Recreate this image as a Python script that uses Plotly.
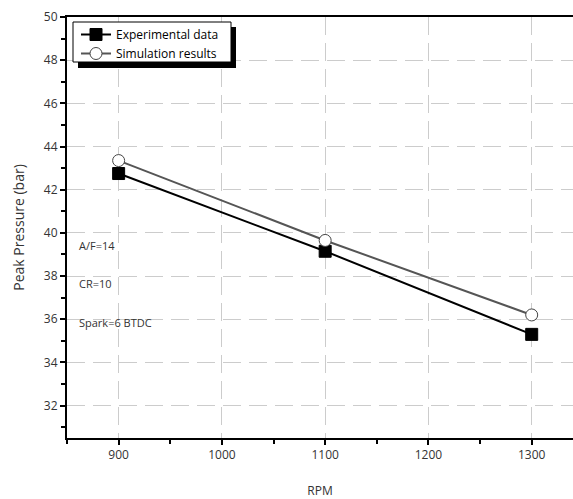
import plotly.graph_objects as go

rpm = [900, 1100, 1300]
experimental = [42.75, 39.15, 35.3]
simulation = [43.35, 39.65, 36.2]
notes = ["A/F=14", "CR=10", "Spark=6 BTDC"]
note_y = [39.42, 37.65, 35.84]

FONT = "Open Sans"
PL, PT, PW, PH = 67, 17, 506, 421


def px_x(p):
    return (p - PL) / PW


def px_y(p):
    return (PT + PH - p) / PH


fig = go.Figure()
fig.add_trace(go.Scatter(
    x=rpm, y=experimental, name="Experimental data", mode="lines+markers",
    line=dict(color="black", width=2),
    marker=dict(symbol="square", size=12, color="black", line=dict(color="black", width=1)),
))
fig.add_trace(go.Scatter(
    x=rpm, y=simulation, name="Simulation results", mode="lines+markers",
    line=dict(color="#555555", width=2),
    marker=dict(symbol="circle", size=12, color="white", line=dict(color="#444444", width=1)),
))

for t, yv in zip(notes, note_y):
    fig.add_annotation(x=0.02, xref="paper", y=yv, yref="y", text=t, showarrow=False,
                       xanchor="left", yanchor="middle",
                       font=dict(family=FONT, size=11, color="#333333"))

# legend shadow and frame
fig.add_shape(type="rect", xref="paper", yref="paper",
              x0=px_x(78), x1=px_x(236), y0=px_y(68), y1=px_y(27),
              fillcolor="black", line=dict(width=0), layer="above")
fig.add_shape(type="rect", xref="paper", yref="paper",
              x0=px_x(73), x1=px_x(231), y0=px_y(62), y1=px_y(22),
              fillcolor="white", line=dict(color="black", width=1), layer="above")

fig.update_layout(
    width=573, height=499,
    margin=dict(l=PL, r=0, t=PT, b=61),
    paper_bgcolor="white", plot_bgcolor="white",
    font=dict(family=FONT, size=12, color="#333333"),
    showlegend=True,
    legend=dict(x=px_x(76), y=px_y(20), xanchor="left", yanchor="top",
                bgcolor="rgba(0,0,0,0)", borderwidth=0,
                font=dict(family=FONT, size=12, color="black"),
                tracegroupgap=0, itemwidth=30),
    xaxis=dict(
        range=[850, 1340], tickvals=[900, 1000, 1100, 1200, 1300],
        showgrid=True, gridcolor="#cccccc", griddash="18px,8px", gridwidth=1,
        showline=True, linecolor="black", linewidth=2, mirror=True,
        ticks="outside", ticklen=5, tickwidth=2, tickcolor="black",
        minor=dict(dtick=50, ticks="outside", ticklen=4, tickwidth=2, tickcolor="black", showgrid=False),
        zeroline=False,
        tickfont=dict(family=FONT, size=12, color="#333333"),
        title=dict(text="RPM", font=dict(family=FONT, size=12, color="#333333"), standoff=24),
    ),
    yaxis=dict(
        range=[30.5, 50], tickvals=[32, 34, 36, 38, 40, 42, 44, 46, 48, 50],
        showgrid=True, gridcolor="#cccccc", griddash="18px,8px", gridwidth=1,
        showline=True, linecolor="black", linewidth=2,
        ticks="outside", ticklen=5, tickwidth=2, tickcolor="black",
        minor=dict(dtick=1, ticks="outside", ticklen=4, tickwidth=2, tickcolor="black", showgrid=False),
        zeroline=False,
        tickfont=dict(family=FONT, size=12, color="#333333"),
        title=dict(text="Peak Pressure (bar)", font=dict(family=FONT, size=14, color="#333333"), standoff=16),
    ),
)

fig.write_html("out.html")
